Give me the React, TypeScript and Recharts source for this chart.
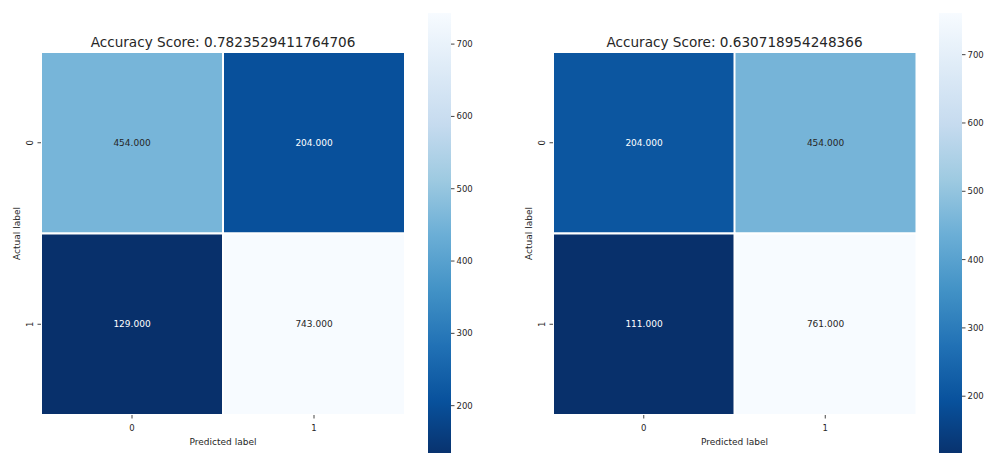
import React from 'react'
import { BarChart, Bar, XAxis, YAxis, Cell, LabelList } from 'recharts'

const FONT = '"DejaVu Sans", "Liberation Sans", sans-serif'
const INK = '#262626'

// matplotlib "Blues" stops, lightest first
const BLUES = ['#f7fbff', '#deebf7', '#c6dbef', '#9ecae1', '#6baed6', '#4292c6', '#2171b5', '#08519c', '#08306b']

const predictedLabels = ['0', '1']
const actualLabels = ['0', '1']
const cbarTicks = [200, 300, 400, 500, 600, 700]

// confusion matrix counts, one array per actual-label row
const logRow0 = [454, 204]
const logRow1 = [129, 743]
const altRow0 = [204, 454]
const altRow1 = [111, 761]

const logTitle = 'Accuracy Score: 0.7823529411764706'
const altTitle = 'Accuracy Score: 0.630718954248366'

// plot box of each heatmap inside its 420x453 chart
const PLOT_TOP = 52
const PLOT_BOTTOM = 415

const hexToRgb = (h: string) => [1, 3, 5].map(i => parseInt(h.slice(i, i + 2), 16))

// Blues_r: 0 -> darkest, 1 -> lightest
function bluesR(t: number) {
  const s = (1 - Math.max(0, Math.min(1, t))) * 8
  const i = Math.min(7, Math.floor(s))
  const f = s - i
  const a = hexToRgb(BLUES[i])
  const b = hexToRgb(BLUES[i + 1])
  const c = a.map((v, k) => Math.round(v + (b[k] - v) * f))
  return `rgb(${c[0]},${c[1]},${c[2]})`
}

function textColorFor(fill: string) {
  const [r, g, b] = fill.match(/\d+/g)!.map(Number).map(v => {
    const c = v / 255
    return c <= 0.03928 ? c / 12.92 : Math.pow((c + 0.055) / 1.055, 2.4)
  })
  const lum = 0.2126 * r + 0.7152 * g + 0.0722 * b
  return lum > 0.408 ? INK : '#ffffff'
}

const XTick = ({ x, y, payload }: any) => (
  <text x={x} y={y} dy="0.71em" textAnchor="middle" fontSize={8.5} fill={INK} fontFamily={FONT}>
    {payload.value}
  </text>
)

const YTick = ({ x, y, payload }: any) => (
  <text x={x} y={y} textAnchor="middle" fontSize={8.5} fill={INK} fontFamily={FONT}
    transform={`rotate(-90 ${x} ${y})`}>
    {actualLabels[Math.floor(payload.value)]}
  </text>
)

const YTitle = ({ viewBox }: any) => {
  const x = viewBox.x + 8.5
  const y = (PLOT_TOP + PLOT_BOTTOM) / 2
  return (
    <text x={x} y={y} textAnchor="middle" fontSize={9} fill={INK} fontFamily={FONT}
      transform={`rotate(-90 ${x} ${y})`}>
      Actual label
    </text>
  )
}

interface HeatProps {
  row0: number[]
  row1: number[]
  title: string
  left: number
  rightMargin: number
  cbarLeft: number
  gradId: string
}

function ConfusionHeatmap({ row0, row1, title, left, rightMargin, cbarLeft, gradId }: HeatProps) {
  const all = [...row0, ...row1]
  const vmin = Math.min(...all)
  const vmax = Math.max(...all)
  const norm = (v: number) => (v - vmin) / (vmax - vmin)

  const data = predictedLabels.map((p, j) => ({ pred: p, r0: 1, r1: 1, c0: row0[j], c1: row1[j] }))

  const annot = (key: 'c0' | 'c1') => (props: any) => {
    const { x, y, width, height, index } = props
    const v = data[index][key]
    return (
      <text x={x + width / 2} y={y + height / 2} dy="0.35em" textAnchor="middle" fontSize={9}
        fontFamily={FONT} fill={textColorFor(bluesR(norm(v)))}>
        {v.toFixed(3)}
      </text>
    )
  }

  const plotW = 420 - 41 - rightMargin

  return (
    <>
      <div style={{ position: 'absolute', left: left + 41, top: 33, width: plotW, textAlign: 'center', fontSize: 13.6, lineHeight: '18px', color: INK }}>
        {title}
      </div>
      <div style={{ position: 'absolute', left, top: 0 }}>
        <BarChart width={420} height={453} data={data} barCategoryGap={0} barGap={0}
          margin={{ top: PLOT_TOP, right: rightMargin, bottom: 453 - PLOT_BOTTOM - 30, left: 11 }}>
          <XAxis dataKey="pred" type="category" height={30} axisLine={false} tickSize={3.5} tickMargin={6}
            tickLine={{ stroke: '#444' }} tick={<XTick />}
            label={{ value: 'Predicted label', position: 'insideBottom', offset: 0, fontSize: 9, fill: INK, fontFamily: FONT }} />
          <YAxis type="number" domain={[0, 2]} reversed ticks={[0.5, 1.5]} interval={0} width={30}
            axisLine={false} tickSize={3.5} tickMargin={4.5} tickLine={{ stroke: '#444' }} tick={<YTick />}
            label={{ content: <YTitle /> }} />
          <Bar dataKey="r0" stackId="m" isAnimationActive={false}>
            {data.map((d, i) => (
              <Cell key={i} fill={bluesR(norm(d.c0))} stroke="#ffffff" strokeWidth={2} />
            ))}
            <LabelList dataKey="c0" content={annot('c0')} />
          </Bar>
          <Bar dataKey="r1" stackId="m" isAnimationActive={false}>
            {data.map((d, i) => (
              <Cell key={i} fill={bluesR(norm(d.c1))} stroke="#ffffff" strokeWidth={2} />
            ))}
            <LabelList dataKey="c1" content={annot('c1')} />
          </Bar>
        </BarChart>
      </div>
      <div style={{ position: 'absolute', left: cbarLeft, top: 0 }}>
        <BarChart width={60} height={470} data={[{ k: 'cb', range: [vmin, vmax] }]} barCategoryGap={0}
          margin={{ top: 13, right: 0, bottom: 13, left: 0 }}>
          <defs>
            <linearGradient id={gradId} x1="0" y1="0" x2="0" y2="1">
              {BLUES.map((c, i) => (
                <stop key={i} offset={i / 8} stopColor={c} />
              ))}
            </linearGradient>
          </defs>
          <XAxis dataKey="k" hide />
          <YAxis type="number" orientation="right" domain={[vmin, vmax]} ticks={cbarTicks} width={37}
            allowDataOverflow axisLine={false} tickSize={3.5} tickMargin={2} tickLine={{ stroke: '#444' }}
            tick={{ fontSize: 8.5, fill: INK, fontFamily: FONT }} />
          <Bar dataKey="range" fill={`url(#${gradId})`} isAnimationActive={false} />
        </BarChart>
      </div>
    </>
  )
}

export default function App() {
  return (
    <div style={{ position: 'fixed', left: 0, top: 0, width: 986, height: 453, overflow: 'hidden', background: '#fff', fontFamily: FONT }}>
      <ConfusionHeatmap row0={logRow0} row1={logRow1} title={logTitle} left={0} rightMargin={15} cbarLeft={428} gradId="cbA" />
      <ConfusionHeatmap row0={altRow0} row1={altRow1} title={altTitle} left={512} rightMargin={16} cbarLeft={939} gradId="cbB" />
    </div>
  )
}
